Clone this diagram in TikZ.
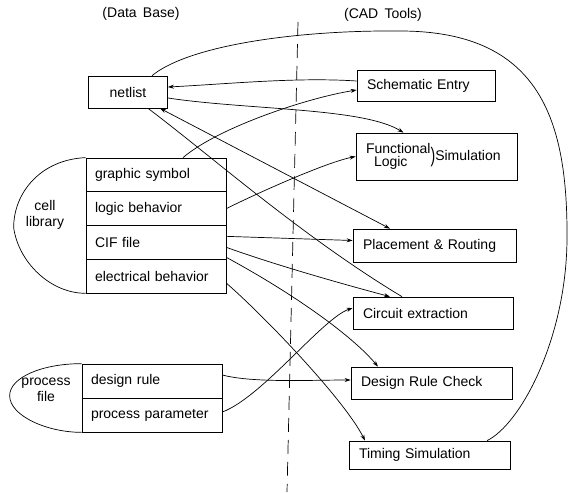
\documentclass[tikz,border=0pt]{standalone}
\usepackage{fontspec}
\setmainfont{Liberation Sans}[WordSpace=1.6]
\usetikzlibrary{arrows.meta}
\tikzset{
	row/.style={draw, minimum width=140pt, minimum height=34pt, text width=122pt, inner xsep=9pt, align=left},
	tool/.style={draw, text width=#1, inner xsep=10pt, inner ysep=0pt, align=left},
}
\begin{document}
\begin{tikzpicture}[x=1pt, y=-1pt, line width=0.7pt, >={Stealth[length=6pt,width=4pt]},
	every node/.style={font=\fontsize{14}{16}\selectfont}]
		\useasboundingbox (0,0) rectangle (574,493);
		\node (db) at (141,14) {(Data Base)};
		\node (cad) at (383,15) {(CAD Tools)};
		\coordinate (sep-top) at (298,22);
		\coordinate (sep-bot) at (287,492);
		\draw[dash pattern=on 14pt off 8pt] (sep-top) -- (sep-bot);
		\node[draw, minimum width=79pt, minimum height=32pt] (nl) at (128,92) {netlist};
		\foreach \i/\txt in {1/graphic symbol, 2/logic behavior, 3/CIF file, 4/electrical behavior} {
			\node[row, minimum height=33.75pt] (cell-\i) at (156, 141.1+33.75*\i) {\txt};
		}
		\foreach \i/\txt in {1/design rule, 2/process parameter} {
			\node[row] (pf-\i) at (152, 347+34*\i) {\txt};
		}
		\draw (cell-1.north west) .. controls +(-45,2) and +(0,-35) .. ++(-72,70)
			.. controls +(5,35) and +(-35,0) .. (cell-4.south west);
		\draw (pf-1.north west) .. controls +(-40,0) and +(0,-18) .. ++(-72,32)
			.. controls +(0,20) and +(-35,0) .. (pf-2.south west);
		\node[align=center] (cell-lbl) at (45,215) {cell\\library};
		\node[align=center] (pf-lbl) at (46,390) {process\\file};
		\node[tool=118pt, minimum height=31pt] (se) at (426,85.5) {Schematic Entry};
		\node[tool=141pt, minimum height=47pt] (fl) at (436.5,156.5)
			{\begin{tabular}{@{}l@{}}Functional\\[-3pt]\hspace{8pt}Logic\end{tabular}\raisebox{-2pt}{\scalebox{1}[1.5]{)}}Simulation};
		\node[tool=143pt, minimum height=33pt] (pr) at (434.5,245.5) {Placement \& Routing};
		\node[tool=140pt, minimum height=32pt] (ce) at (433,313) {Circuit extraction};
		\node[tool=141pt, minimum height=32pt] (drc) at (431.5,383) {Design Rule Check};
		\node[tool=141pt, minimum height=28pt] (ts) at (429.5,455) {Timing Simulation};
		\coordinate (loop-e) at (567,240);
		\coordinate (loop-n) at (400,31);
		\draw ([xshift=57.5pt]ts.north) .. controls +(33,-16) and +(-1,100) .. (loop-e)
			.. controls +(1,-120) and +(140,0) .. (loop-n)
			.. controls +(-100,-1) and +(38,-31) .. ([xshift=24pt]nl.north);
		\draw[->] ([yshift=4.5pt]se.west) .. controls +(-60,-4) and +(60,-3) .. ([yshift=5pt]nl.east);
		\draw[->] ([yshift=-6pt]nl.east) .. controls +(80,12) and +(-40,-25) .. ([xshift=-33pt]fl.north);
		\draw[->] ([xshift=27pt]cell-1.north) .. controls +(35,-30) and +(-50,8) .. ([yshift=-4.5pt]se.west);
		\draw[<->] ([xshift=32pt]nl.south) -- ([xshift=-44.5pt]pr.north);
		\draw ([xshift=20pt]nl.south) .. controls +(60,45) and +(-100,-60) .. ([xshift=-31pt]ce.north);
		\draw[->] (cell-2.east) .. controls +(30,-15) and +(-30,6) .. (fl.west);
		\draw[->] ([yshift=6pt]cell-3.east) -- ([yshift=5pt]pr.west);
		\draw[->] ([yshift=-5pt]cell-3.east) .. controls +(50,18) and +(-45,-12) .. ([xshift=-43pt]ce.north);
		\draw[->] ([yshift=-15pt]cell-3.east) .. controls +(70,38) and +(-25,-30) .. ([xshift=-53.5pt]drc.north);
		\draw[->] ([yshift=-7pt]cell-4.east) .. controls +(40,35) and +(-20,-40) .. ([xshift=-64.5pt]ts.north);
		\draw[->] ([yshift=6pt]pf-1.east) .. controls +(30,8) and +(-40,0) .. ([yshift=3pt]drc.west);
		\draw[->] ([yshift=3pt]pf-2.east) .. controls +(40,-15) and +(-30,10) .. ([yshift=5pt]ce.west);
	\end{tikzpicture}
\end{document}
